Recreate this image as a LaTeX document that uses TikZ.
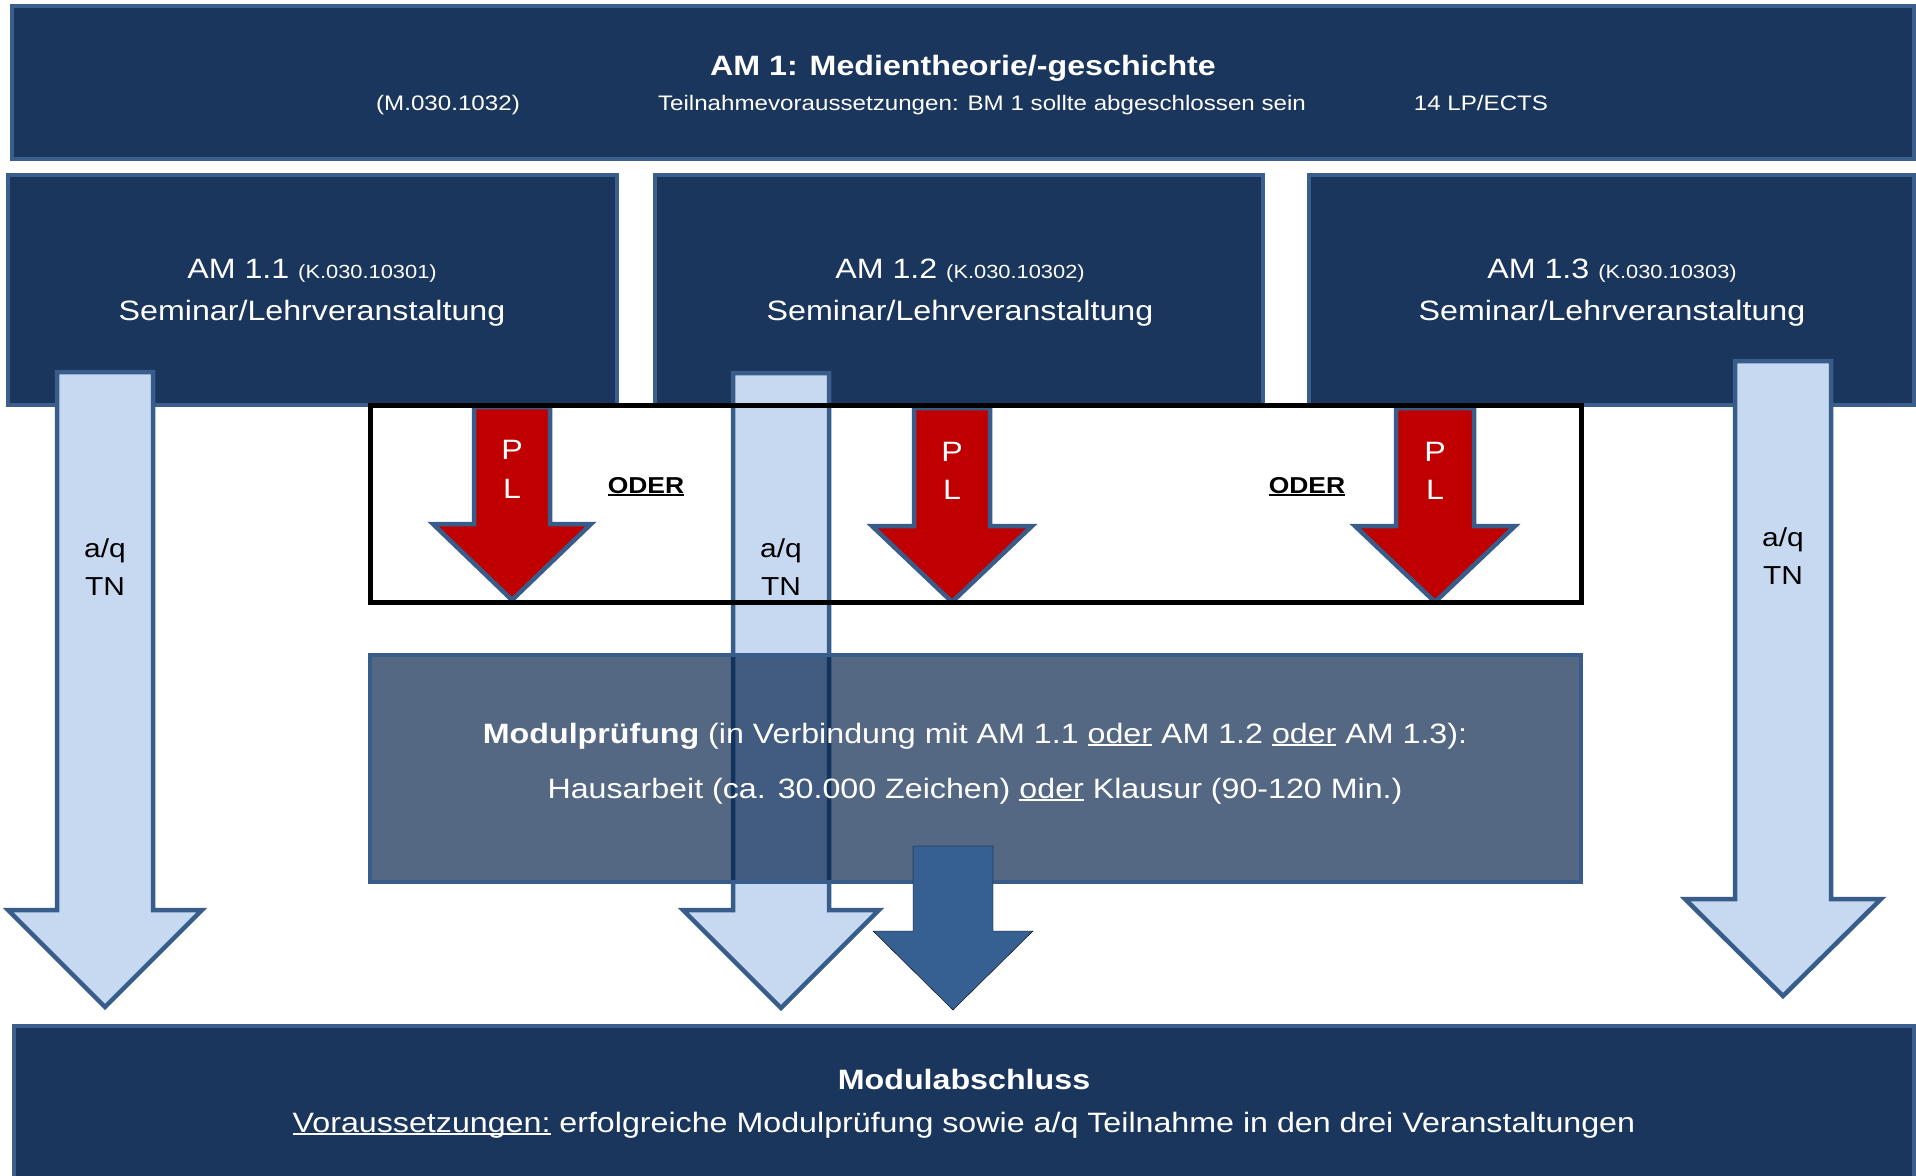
\documentclass[tikz,border=0pt]{standalone}
\usepackage{fontspec}
\setmainfont[FakeStretch=1.15]{Liberation Sans}
\definecolor{boxfill}{RGB}{27,54,93}
\definecolor{boxline}{RGB}{58,95,140}
\definecolor{lblue}{RGB}{198,217,241}
\definecolor{arline}{RGB}{56,93,138}
\definecolor{plred}{RGB}{192,0,0}
\definecolor{modfill}{RGB}{0,31,73}
\definecolor{darr}{RGB}{54,96,146}
\newcommand\myul[1]{\setbox0\hbox{#1}\rlap{\rule[-0.11em]{\wd0}{0.075em}}\box0\relax}
\newcommand\fs[1]{\fontsize{#1}{#1}\selectfont}
% #1 style, #2 centre x, #3 top y, #4 half shaft, #5 half head, #6 head y, #7 tip y
\newcommand\blk[7]{\draw[#1] (#2-#4,#3) -- (#2+#4,#3) -- (#2+#4,#6) -- (#2+#5,#6) -- (#2,#7) -- (#2-#5,#6) -- (#2-#4,#6) -- cycle;}
\tikzset{
  darkbox/.style={fill=boxfill, draw=boxline, line width=4pt},
  lbarrow/.style={fill=lblue, draw=arline, line width=4.5pt, line join=miter},
  redarrow/.style={fill=plred, draw=arline, line width=4.5pt, line join=miter},
  modbox/.style={fill=modfill, fill opacity=0.67, draw=arline, line width=4pt},
  darrow/.style={fill=darr},
  orbox/.style={draw=black, line width=5pt},
  wtxt/.style={text=white, inner sep=0pt, anchor=base},
  btxt/.style={text=black, inner sep=0pt, anchor=base},
}
\begin{document}
\begin{tikzpicture}[x=1pt,y=-1pt]
\useasboundingbox[fill=white] (0,0) rectangle (1916,1175);
% boxes
\draw[darkbox] (12,6) rectangle (1914,159);
\draw[darkbox] (8,175) rectangle (617,405);
\draw[darkbox] (655,175) rectangle (1263,405);
\draw[darkbox] (1309,175) rectangle (1914,405);
\draw[darkbox] (14,1026) rectangle (1914,1185);
% light blue arrows
\blk{lbarrow}{105}{372}{48}{97}{910}{1007}
\blk{lbarrow}{781}{373}{48}{98}{910}{1008}
\blk{lbarrow}{1783}{361}{48}{98}{899}{996}
% red arrows
\blk{redarrow}{512}{407}{38}{79}{524}{600}
\blk{redarrow}{952}{408}{38}{80}{526}{602}
\blk{redarrow}{1435}{408}{39}{80}{526}{602}
% module exam box
\draw[modbox] (370,655) rectangle (1581,882);
% dark arrow
\blk{darrow}{953}{846}{40}{80}{931}{1010}
% frame of the alternatives
\draw[orbox] (370,405) rectangle (1581,602);
% texts
\node[wtxt, font=\fs{28}\bfseries] (title) at (963,75) {AM 1: Medientheorie/-geschichte};
\node[wtxt, font=\fs{21}] (code) at (448,110) {(M.030.1032)};
\node[wtxt, font=\fs{21}] (vor) at (982,110) {Teilnahmevoraussetzungen: BM 1 sollte abgeschlossen sein};
\node[wtxt, font=\fs{21}] (lp) at (1481,110) {14 LP/ECTS};
\node[wtxt, font=\fs{28}] (am11) at (312,278) {AM 1.1 {\fs{19}(K.030.10301)}};
\node[wtxt, font=\fs{28}] (sem1) at (312,320) {Seminar/Lehrveranstaltung};
\node[wtxt, font=\fs{28}] (am12) at (960,278) {AM 1.2 {\fs{19}(K.030.10302)}};
\node[wtxt, font=\fs{28}] (sem2) at (960,320) {Seminar/Lehrveranstaltung};
\node[wtxt, font=\fs{28}] (am13) at (1612,278) {AM 1.3 {\fs{19}(K.030.10303)}};
\node[wtxt, font=\fs{28}] (sem3) at (1612,320) {Seminar/Lehrveranstaltung};
\node[btxt, font=\fs{26}] (aq1) at (105,557) {a/q};
\node[btxt, font=\fs{26}] (tn1) at (105,595) {TN};
\node[btxt, font=\fs{26}] (aq2) at (781,557) {a/q};
\node[btxt, font=\fs{26}] (tn2) at (781,595) {TN};
\node[btxt, font=\fs{26}] (aq3) at (1783,546) {a/q};
\node[btxt, font=\fs{26}] (tn3) at (1783,584) {TN};
\node[wtxt, font=\fs{28}] (p1) at (512,459) {P};
\node[wtxt, font=\fs{28}] (l1) at (512,498) {L};
\node[wtxt, font=\fs{28}] (p2) at (952,461) {P};
\node[wtxt, font=\fs{28}] (l2) at (952,499) {L};
\node[wtxt, font=\fs{28}] (p3) at (1435,461) {P};
\node[wtxt, font=\fs{28}] (l3) at (1435,499) {L};
\node[btxt, font=\fs{23}\bfseries] (oder1) at (646,493) {\myul{ODER}};
\node[btxt, font=\fs{23}\bfseries] (oder2) at (1307,493) {\myul{ODER}};
\node[wtxt, font=\fs{28}] (mp1) at (975,743) {\textbf{Modulprüfung} (in Verbindung mit AM 1.1 \myul{oder} AM 1.2 \myul{oder} AM 1.3):};
\node[wtxt, font=\fs{28}] (mp2) at (975,798) {Hausarbeit (ca. 30.000 Zeichen) \myul{oder} Klausur (90-120 Min.)};
\node[wtxt, font=\fs{28}\bfseries] (ma1) at (964,1089) {Modulabschluss};
\node[wtxt, font=\fs{28}] (ma2) at (964,1132) {\myul{Voraussetzungen:} erfolgreiche Modulprüfung sowie a/q Teilnahme in den drei Veranstaltungen};
\end{tikzpicture}
\end{document}
